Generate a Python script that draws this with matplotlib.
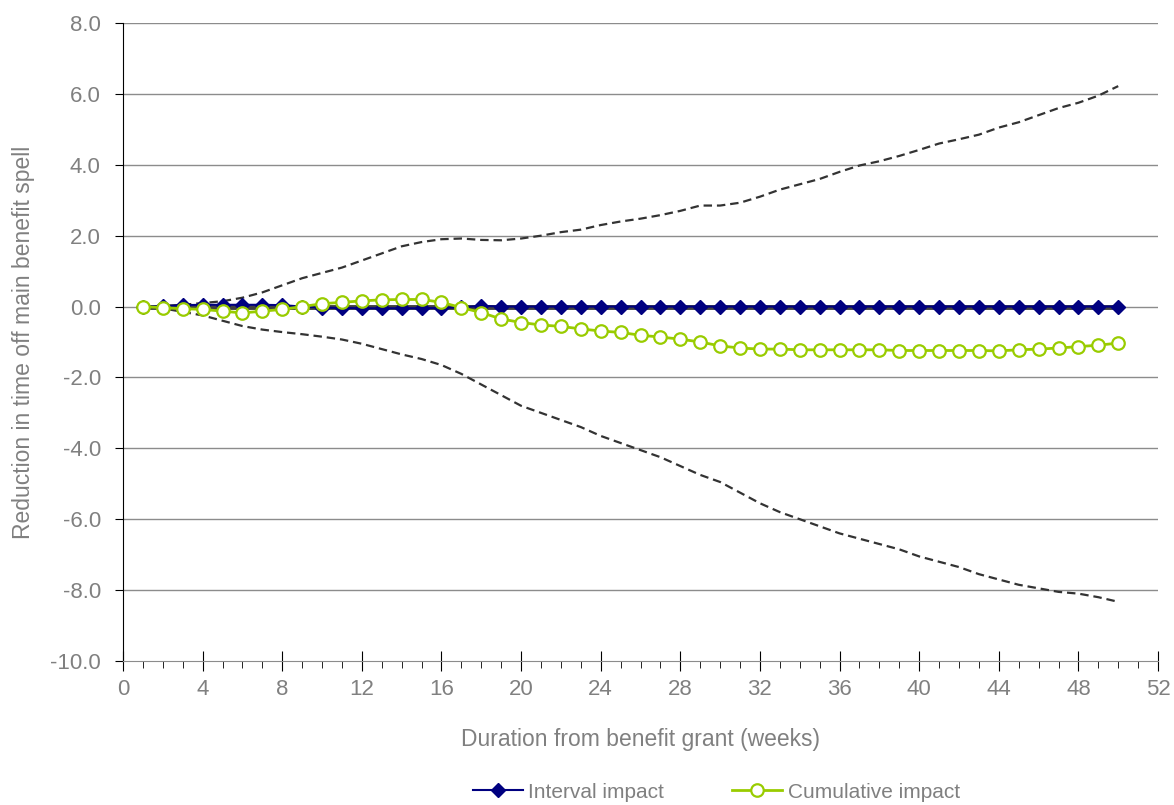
import matplotlib
matplotlib.use("Agg")
import matplotlib.pyplot as plt
from matplotlib.ticker import MultipleLocator, FuncFormatter

plt.rcParams['font.family'] = ['Liberation Sans', 'DejaVu Sans']

# weeks since benefit grant
weeks = list(range(1, 51))

# interval impact (sits on zero, tiny wiggles early on)
interval = [0.0, 0.01, 0.04, 0.05, 0.05, 0.05, 0.05, 0.04, 0.0, -0.03,
            -0.04, -0.05, -0.05, -0.05, -0.05, -0.04, -0.02, 0.02, 0.0, 0.0,
            0.0, 0.0, 0.0, 0.0, 0.0, 0.0, 0.0, 0.0, 0.0, 0.0,
            0.0, 0.0, 0.0, 0.0, 0.0, 0.0, 0.0, 0.0, 0.0, 0.0,
            0.0, 0.0, 0.0, 0.0, 0.0, 0.0, 0.0, 0.0, 0.0, 0.0]

# cumulative impact
cumulative = [0.0, -0.03, -0.06, -0.08, -0.13, -0.18, -0.13, -0.08, 0.0, 0.08,
              0.12, 0.16, 0.19, 0.2, 0.2, 0.12, -0.03, -0.17, -0.35, -0.45,
              -0.52, -0.56, -0.63, -0.69, -0.73, -0.81, -0.86, -0.92, -1.0, -1.11,
              -1.17, -1.2, -1.2, -1.22, -1.22, -1.22, -1.22, -1.22, -1.24, -1.24,
              -1.24, -1.24, -1.24, -1.25, -1.22, -1.2, -1.17, -1.13, -1.09, -1.03]

# confidence band of the cumulative impact
upper = [0.0, 0.02, 0.05, 0.1, 0.15, 0.25, 0.4, 0.6, 0.8, 0.95,
         1.1, 1.3, 1.5, 1.7, 1.82, 1.9, 1.92, 1.88, 1.87, 1.92,
         2.0, 2.1, 2.17, 2.3, 2.4, 2.48, 2.58, 2.7, 2.85, 2.85,
         2.93, 3.1, 3.3, 3.45, 3.6, 3.8, 3.98, 4.1, 4.25, 4.42,
         4.6, 4.72, 4.85, 5.05, 5.2, 5.4, 5.6, 5.75, 5.95, 6.22]
lower = [0.0, -0.05, -0.15, -0.25, -0.4, -0.55, -0.65, -0.72, -0.78, -0.85,
         -0.93, -1.05, -1.2, -1.35, -1.48, -1.65, -1.9, -2.2, -2.5, -2.8,
         -3.0, -3.2, -3.4, -3.65, -3.85, -4.05, -4.25, -4.5, -4.75, -4.95,
         -5.25, -5.55, -5.8, -6.0, -6.2, -6.4, -6.55, -6.7, -6.85, -7.05,
         -7.2, -7.35, -7.55, -7.7, -7.85, -7.95, -8.05, -8.1, -8.2, -8.33]

grey_text = '#808080'

fig = plt.figure(figsize=(11.74, 8.05), dpi=100)
ax = fig.add_axes([0.1048, 0.1789, 0.8816, 0.7925])

for v in range(-8, 10, 2):
    ax.axhline(v, color='#8c8c8c', lw=1, zorder=0)

ax.plot(weeks, upper, color='#333333', lw=1.6, dashes=(3.8, 2.2), zorder=2)
ax.plot(weeks, lower, color='#333333', lw=1.6, dashes=(3.8, 2.2), zorder=2)
# interval band collapses onto zero
ax.plot(weeks, [0] * len(weeks), color='#404040', lw=3.5, zorder=2)

ax.plot(weeks, interval, color='#000080', lw=1.5, marker='D', markersize=7.5,
        markeredgecolor='#000080', label='Interval impact', zorder=3)
ax.plot(weeks, cumulative, color='#99cc00', lw=2, marker='o', markersize=9,
        markerfacecolor='white', markeredgecolor='#99cc00', markeredgewidth=1.6,
        label='Cumulative impact', zorder=4)

ax.set_xlim(0, 52)
ax.set_ylim(-10, 8)
ax.xaxis.set_major_locator(MultipleLocator(4))
ax.xaxis.set_minor_locator(MultipleLocator(1))
ax.yaxis.set_major_locator(MultipleLocator(2))
ax.yaxis.set_major_formatter(FuncFormatter(lambda v, p: '%.1f' % v))

for side in ['top', 'right']:
    ax.spines[side].set_visible(False)
ax.spines['left'].set_color('black')
ax.spines['bottom'].set_color('#8c8c8c')

ax.tick_params(axis='x', which='major', direction='inout', length=14,
               color='black', labelsize=16, labelcolor=grey_text, pad=6)
ax.tick_params(axis='x', which='minor', direction='out', length=5, color='black')
ax.tick_params(axis='y', which='major', direction='out', length=6,
               color='black', labelsize=16, labelcolor=grey_text, pad=10)

ax.set_xlabel('Duration from benefit grant (weeks)', fontsize=16.5, color=grey_text)
ax.set_ylabel('Reduction in time off main benefit spell', fontsize=16.5, color=grey_text)
ax.xaxis.label.set_va('center')
ax.yaxis.label.set_va('center')
ax.xaxis.set_label_coords(0.5, -0.123)
ax.yaxis.set_label_coords(-0.0965, 0.5)

leg = fig.legend(loc='center', bbox_to_anchor=(0.610, 0.016), ncol=2,
                 frameon=False, fontsize=15, handlelength=2.4,
                 columnspacing=3.3, handletextpad=0.25)
for t in leg.get_texts():
    t.set_color(grey_text)

fig.savefig('out.png', dpi=100)
